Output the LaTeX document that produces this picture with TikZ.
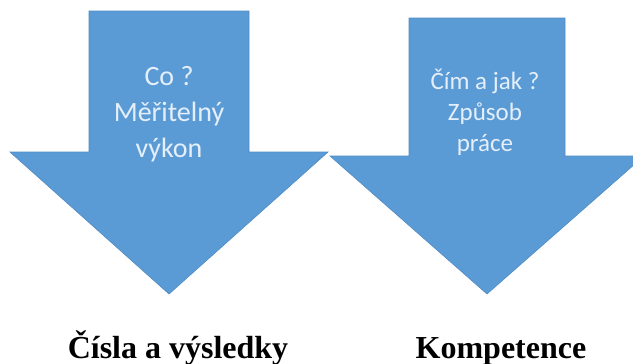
\documentclass[tikz,border=0pt]{standalone}
\usepackage{fontspec}
\setmainfont{Liberation Serif}
\newfontfamily\calfont{Carlito}
\usepackage{tikz}
\definecolor{arrowblue}{HTML}{5B9BD5}
\definecolor{arrowedge}{HTML}{4F8BC4}
\definecolor{arrowtext}{HTML}{E4EFFA}
% #1 centre x, #2 top, #3 half shaft, #4 head base, #5 half head, #6 tip
\newcommand{\bigdownarrow}[6]{%
  \filldraw[arrowfill] (#1-#3,#2) -- (#1+#3,#2) -- (#1+#3,#4) -- (#1+#5,#4)
    -- (#1,#6) -- (#1-#5,#4) -- (#1-#3,#4) -- cycle;}
\tikzset{
  arrowfill/.style={fill=arrowblue, draw=arrowedge, line width=0.6pt, line join=miter},
  inlabel/.style={text=arrowtext, align=center, font=\calfont},
  outlabel/.style={font=\bfseries\fontsize{32}{38}\selectfont, anchor=base}
}

\begin{document}
\begin{tikzpicture}[x=1pt,y=-1pt]
\useasboundingbox (0,0) rectangle (633,364);

\bigdownarrow{169}{11}{80}{152}{159}{294}
\bigdownarrow{487}{18}{78}{156}{157}{294}

\node (co) [inlabel, font=\calfont\fontsize{28}{36}\selectfont] at (169,114)
  {Co ?\\Měřitelný\\výkon};
\node (cim) [inlabel, font=\calfont\fontsize{25}{31}\selectfont] at (485,112)
  {Čím a jak ?\\Způsob\\práce};

\node (cisla) [outlabel] at (178,358) {Čísla a výsledky};
\node (komp) [outlabel] at (501,358) {Kompetence};
\end{tikzpicture}
\end{document}
